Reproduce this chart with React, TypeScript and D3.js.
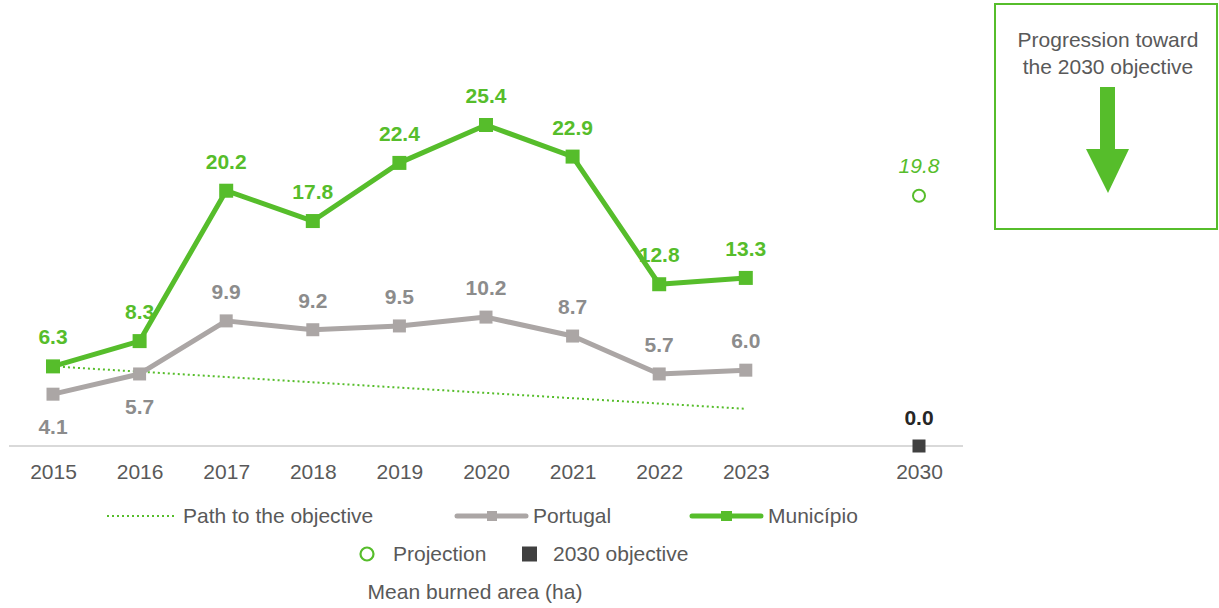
import React, { useEffect, useRef } from 'react';
import * as d3 from 'd3';

const years = ['2015', '2016', '2017', '2018', '2019', '2020', '2021', '2022', '2023'];
const slots = [...years, '', '2030'];
const municipio = [6.3, 8.3, 20.2, 17.8, 22.4, 25.4, 22.9, 12.8, 13.3];
const portugal = [4.1, 5.7, 9.9, 9.2, 9.5, 10.2, 8.7, 5.7, 6.0];
// label goes under the point for these
const portugalBelow = [true, true, false, false, false, false, false, false, false];
const pathYears = ['2015', '2023'];
const pathValues = [6.3, 2.94];
const projection = { year: '2030', value: 19.8 };
const objective = { year: '2030', value: 0.0 };

const GREEN = '#56bd2b';
const GREY = '#aba6a5';
const GREY_LABEL = '#8c8c8c';
const TEXT = '#595959';
const FONT = '"Liberation Sans", Arial, sans-serif';
const FS = 21;

const App: React.FC = () => {
  const svgRef = useRef<SVGSVGElement | null>(null);

  useEffect(() => {
    if (!svgRef.current) return;
    const svg = d3.select(svgRef.current);
    svg.selectAll('*').remove();
    svg.style('font-family', FONT);

    const x = d3.scalePoint<string>().domain(slots).range([53, 919]);
    const y = d3.scaleLinear().domain([0, 25.4]).range([446, 125]);

    // baseline
    svg.append('line')
      .attr('x1', 9).attr('x2', 963)
      .attr('y1', y(0)).attr('y2', y(0))
      .attr('stroke', '#d9d9d9').attr('stroke-width', 2);

    // x axis labels
    const axis = svg.append('g')
      .attr('transform', `translate(0,${y(0) + 33})`)
      .call(d3.axisBottom(x).tickSize(0).tickPadding(0).tickFormat(d => d));
    axis.select('.domain').remove();
    axis.selectAll('text')
      .attr('font-family', FONT)
      .attr('font-size', FS)
      .attr('fill', TEXT)
      .attr('dy', 0);

    // path to the objective
    const pathLine = d3.line<number>()
      .x((_, i) => x(pathYears[i]) as number)
      .y(d => y(d));
    svg.append('path')
      .attr('d', pathLine(pathValues))
      .attr('fill', 'none')
      .attr('stroke', GREEN)
      .attr('stroke-width', 2)
      .attr('stroke-dasharray', '2 3');

    const line = d3.line<number>()
      .x((_, i) => x(years[i]) as number)
      .y(d => y(d));

    // Portugal
    svg.append('path')
      .attr('d', line(portugal))
      .attr('fill', 'none')
      .attr('stroke', GREY)
      .attr('stroke-width', 5)
      .attr('stroke-linejoin', 'round');
    svg.selectAll('.pt-mark')
      .data(portugal)
      .enter()
      .append('rect')
      .attr('x', (_, i) => (x(years[i]) as number) - 6.5)
      .attr('y', d => y(d) - 6.5)
      .attr('width', 13).attr('height', 13)
      .attr('fill', GREY);
    svg.selectAll('.pt-label')
      .data(portugal)
      .enter()
      .append('text')
      .attr('x', (_, i) => x(years[i]) as number)
      .attr('y', (d, i) => y(d) + (portugalBelow[i] ? 40 : -22))
      .attr('text-anchor', 'middle')
      .attr('font-size', FS)
      .attr('font-weight', 'bold')
      .attr('fill', GREY_LABEL)
      .text(d => d.toFixed(1));

    // Município
    svg.append('path')
      .attr('d', line(municipio))
      .attr('fill', 'none')
      .attr('stroke', GREEN)
      .attr('stroke-width', 5)
      .attr('stroke-linejoin', 'round');
    svg.selectAll('.mu-mark')
      .data(municipio)
      .enter()
      .append('rect')
      .attr('x', (_, i) => (x(years[i]) as number) - 7)
      .attr('y', d => y(d) - 7)
      .attr('width', 14).attr('height', 14)
      .attr('fill', GREEN);
    svg.selectAll('.mu-label')
      .data(municipio)
      .enter()
      .append('text')
      .attr('x', (_, i) => x(years[i]) as number)
      .attr('y', d => y(d) - 22)
      .attr('text-anchor', 'middle')
      .attr('font-size', FS)
      .attr('font-weight', 'bold')
      .attr('fill', GREEN)
      .text(d => d.toFixed(1));

    // projection
    const px = x(projection.year) as number;
    svg.append('circle')
      .attr('cx', px).attr('cy', y(projection.value))
      .attr('r', 6)
      .attr('fill', 'none')
      .attr('stroke', GREEN)
      .attr('stroke-width', 2);
    svg.append('text')
      .attr('x', px).attr('y', y(projection.value) - 23)
      .attr('text-anchor', 'middle')
      .attr('font-size', FS)
      .attr('font-style', 'italic')
      .attr('fill', GREEN)
      .text(projection.value.toFixed(1));

    // 2030 objective
    const ox = x(objective.year) as number;
    svg.append('rect')
      .attr('x', ox - 6.5).attr('y', y(objective.value) - 6.5)
      .attr('width', 13).attr('height', 13)
      .attr('fill', '#404040');
    svg.append('text')
      .attr('x', ox).attr('y', y(objective.value) - 21)
      .attr('text-anchor', 'middle')
      .attr('font-size', FS)
      .attr('font-weight', 'bold')
      .attr('fill', '#262626')
      .text(objective.value.toFixed(1));

    // box with arrow
    const box = svg.append('g');
    box.append('rect')
      .attr('x', 995).attr('y', 4)
      .attr('width', 222).attr('height', 225)
      .attr('fill', 'none')
      .attr('stroke', GREEN)
      .attr('stroke-width', 2);
    box.append('text')
      .attr('x', 1108).attr('y', 47)
      .attr('text-anchor', 'middle')
      .attr('font-size', FS)
      .attr('fill', TEXT)
      .text('Progression toward');
    box.append('text')
      .attr('x', 1108).attr('y', 74)
      .attr('text-anchor', 'middle')
      .attr('font-size', FS)
      .attr('fill', TEXT)
      .text('the 2030 objective');
    box.append('path')
      .attr('d', 'M1100,87 L1115,87 L1115,149 L1129,149 L1108,193 L1086,149 L1100,149 Z')
      .attr('fill', GREEN);

    // legend
    const leg = svg.append('g').attr('font-size', FS).attr('fill', TEXT);
    leg.append('line')
      .attr('x1', 107).attr('x2', 177).attr('y1', 516).attr('y2', 516)
      .attr('stroke', GREEN).attr('stroke-width', 2).attr('stroke-dasharray', '2 3');
    leg.append('text').attr('x', 183).attr('y', 523).text('Path to the objective');

    leg.append('line')
      .attr('x1', 457).attr('x2', 526).attr('y1', 516).attr('y2', 516)
      .attr('stroke', GREY).attr('stroke-width', 5).attr('stroke-linecap', 'round');
    leg.append('rect').attr('x', 487).attr('y', 511).attr('width', 10).attr('height', 10).attr('fill', GREY);
    leg.append('text').attr('x', 533).attr('y', 523).text('Portugal');

    leg.append('line')
      .attr('x1', 692).attr('x2', 761).attr('y1', 516).attr('y2', 516)
      .attr('stroke', GREEN).attr('stroke-width', 5).attr('stroke-linecap', 'round');
    leg.append('rect').attr('x', 721).attr('y', 511).attr('width', 11).attr('height', 10).attr('fill', GREEN);
    leg.append('text').attr('x', 768).attr('y', 523).text('Município');

    leg.append('circle')
      .attr('cx', 367).attr('cy', 554).attr('r', 6.5)
      .attr('fill', 'none').attr('stroke', GREEN).attr('stroke-width', 2.2);
    leg.append('text').attr('x', 393).attr('y', 561).text('Projection');

    leg.append('rect').attr('x', 522).attr('y', 546.5).attr('width', 15).attr('height', 15).attr('fill', '#404040');
    leg.append('text').attr('x', 553).attr('y', 561).text('2030 objective');

    leg.append('text')
      .attr('x', 475).attr('y', 599)
      .attr('text-anchor', 'middle')
      .text('Mean burned area (ha)');
  }, []);

  return <svg ref={svgRef} width={1219} height={608} style={{ position: 'absolute', left: 0, top: 0 }}></svg>;
};

export default App;
